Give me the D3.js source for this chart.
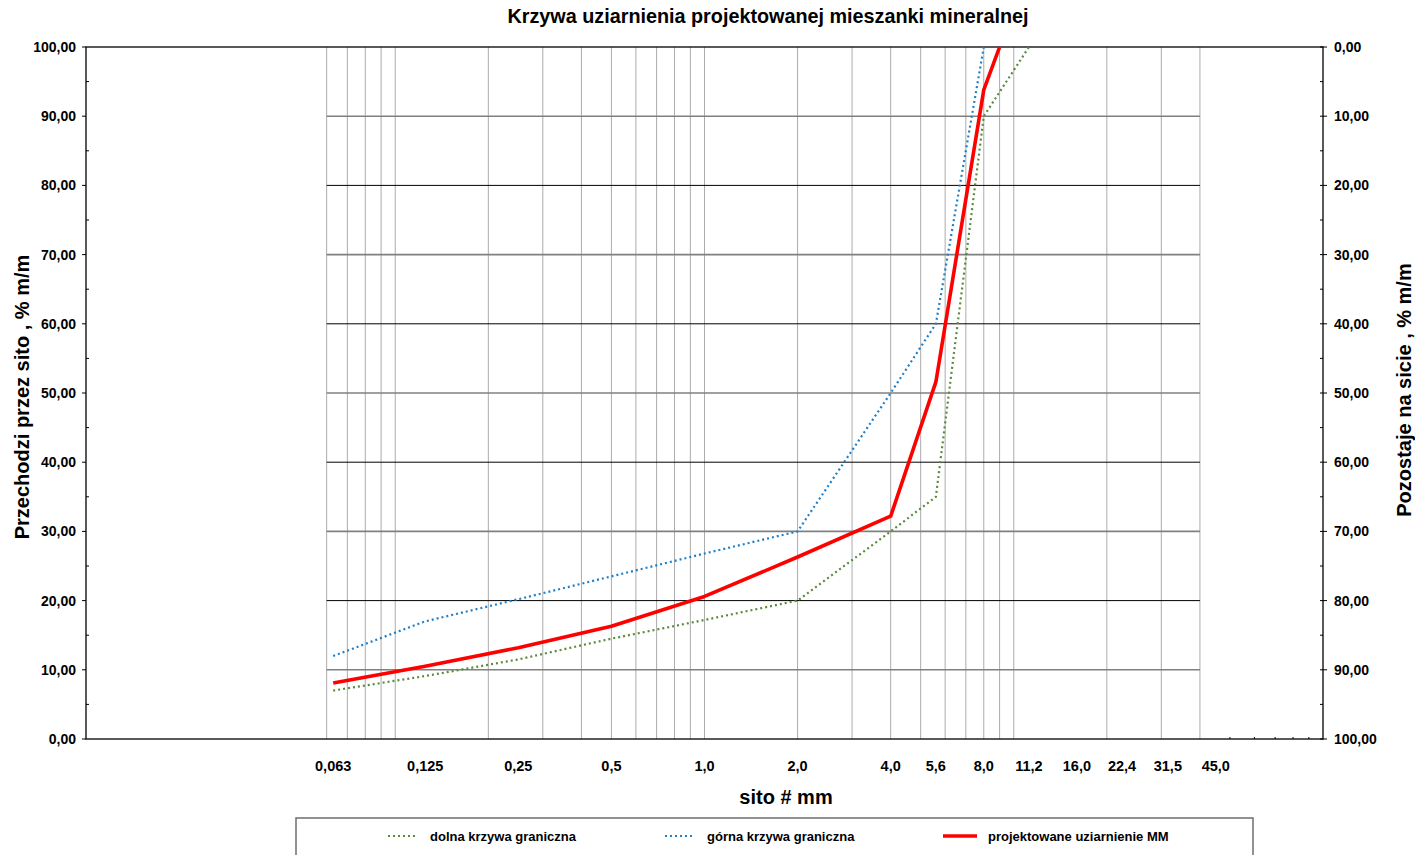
<!doctype html>
<html>
  <head>
    <meta charset="utf-8">
    <title>Krzywa uziarnienia</title>
    <script type="text/javascript" src="https://d3js.org/d3.v7.min.js"></script>
    <style>
      body { margin: 0; background: #fff; }
      text { font-family: "Liberation Sans", Arial, sans-serif; }
    </style>
  </head>
  <body>
    <script>
      // sita (mm) i opisy na osi x
      const sita = [0.063, 0.125, 0.25, 0.5, 1, 2, 4, 5.6, 8, 11.2, 16, 22.4, 31.5, 45];
      const opisySit = ['0,063', '0,125', '0,25', '0,5', '1,0', '2,0', '4,0', '5,6', '8,0', '11,2', '16,0', '22,4', '31,5', '45,0'];

      // krzywe graniczne i projekt - przechodzi przez sito, %
      const dolnaSita = [0.063, 0.125, 0.25, 0.5, 1, 2, 4, 5.6, 8, 11.2];
      const dolnaKrzywa = [7.0, 9.1, 11.5, 14.5, 17.2, 20.0, 30.0, 35.0, 90.0, 100.0];
      const gornaSita = [0.063, 0.125, 0.25, 0.5, 1, 2, 4, 5.6, 8];
      const gornaKrzywa = [12.0, 17.0, 20.2, 23.5, 26.8, 30.0, 50.0, 60.0, 100.0];
      const projektSita = [0.063, 0.125, 0.25, 0.5, 1, 2, 4, 5.6, 8, 9];
      const projektMM = [8.1, 10.5, 13.2, 16.3, 20.6, 26.3, 32.2, 51.6, 93.8, 100.0];

      const yTicks = [0, 10, 20, 30, 40, 50, 60, 70, 80, 90, 100];

      const W = 1415, H = 855;
      const pLeft = 86, pRight = 1323, pTop = 47, pBottom = 739;

      const svg = d3.select('body').append('svg')
          .attr('width', W)
          .attr('height', H);

      const x = d3.scaleLog().domain([0.01, 100]).range([pLeft, pRight]);
      const y = d3.scaleLinear().domain([0, 100]).range([pBottom, pTop]);
      const yR = d3.scaleLinear().domain([100, 0]).range([pBottom, pTop]);
      const fmt = v => d3.format('.2f')(v).replace('.', ',');

      // siatka pionowa (0,06 ... 40)
      const logTicks = x.ticks();
      const gridX = logTicks.filter(v => v > 0.0599 && v < 40.01);
      svg.append('g').selectAll('line')
        .data(gridX)
        .enter().append('line')
          .attr('x1', d => x(d)).attr('x2', d => x(d))
          .attr('y1', pTop).attr('y2', pBottom)
          .attr('stroke', '#acacac')
          .attr('stroke-width', 1);

      // siatka pozioma
      svg.append('g').selectAll('line')
        .data(yTicks.filter(v => v > 0 && v < 100))
        .enter().append('line')
          .attr('x1', x(0.06)).attr('x2', x(40))
          .attr('y1', d => y(d)).attr('y2', d => y(d))
          .attr('stroke', d => d % 20 === 0 ? '#000' : '#808080')
          .attr('stroke-width', d => d % 20 === 0 ? 1 : 1.6);

      // ramka
      svg.append('rect')
        .attr('x', pLeft).attr('y', pTop)
        .attr('width', pRight - pLeft).attr('height', pBottom - pTop)
        .attr('fill', 'none')
        .attr('stroke', '#000')
        .attr('stroke-width', 1.3);

      // osie y - lewa i prawa
      const minorY = d3.range(5, 100, 10);
      const axes = svg.append('g').attr('stroke', '#000').attr('stroke-width', 1);
      axes.selectAll('.tl').data(yTicks).enter().append('line')
        .attr('x1', pLeft - 4).attr('x2', pLeft)
        .attr('y1', d => y(d)).attr('y2', d => y(d));
      axes.selectAll('.tlm').data(minorY).enter().append('line')
        .attr('x1', pLeft).attr('x2', pLeft + 3)
        .attr('y1', d => y(d)).attr('y2', d => y(d));
      axes.selectAll('.tr').data(yTicks).enter().append('line')
        .attr('x1', pRight - 3).attr('x2', pRight + 4)
        .attr('y1', d => yR(d)).attr('y2', d => yR(d));
      axes.selectAll('.trm').data(minorY).enter().append('line')
        .attr('x1', pRight - 3).attr('x2', pRight)
        .attr('y1', d => yR(d)).attr('y2', d => yR(d));
      // drobne znaczniki na osi x powyzej 40 mm
      axes.selectAll('.tx').data(logTicks.filter(v => v > 40.01 && v < 99)).enter().append('line')
        .attr('x1', d => x(d)).attr('x2', d => x(d))
        .attr('y1', pBottom - 2).attr('y2', pBottom);

      svg.append('g').selectAll('text')
        .data(yTicks)
        .enter().append('text')
          .attr('x', pLeft - 10)
          .attr('y', d => y(d) + 5)
          .attr('text-anchor', 'end')
          .attr('font-size', 14)
          .attr('font-weight', 'bold')
          .text(fmt);

      svg.append('g').selectAll('text')
        .data(yTicks)
        .enter().append('text')
          .attr('x', pRight + 11)
          .attr('y', d => yR(d) + 5)
          .attr('font-size', 14)
          .attr('font-weight', 'bold')
          .text(fmt);

      // opisy sit
      svg.append('g').selectAll('text')
        .data(sita)
        .enter().append('text')
          .attr('x', d => x(d))
          .attr('y', 771)
          .attr('text-anchor', 'middle')
          .attr('font-size', 14.5)
          .attr('font-weight', 'bold')
          .text((d, i) => opisySit[i]);

      // tytuly
      svg.append('text')
        .attr('x', 768).attr('y', 23)
        .attr('text-anchor', 'middle')
        .attr('font-size', 19.8)
        .attr('font-weight', 'bold')
        .text('Krzywa uziarnienia projektowanej mieszanki mineralnej');

      svg.append('text')
        .attr('x', 786).attr('y', 804)
        .attr('text-anchor', 'middle')
        .attr('font-size', 20)
        .attr('font-weight', 'bold')
        .text('sito # mm');

      svg.append('text')
        .attr('transform', 'translate(29,397) rotate(-90)')
        .attr('text-anchor', 'middle')
        .attr('font-size', 20)
        .attr('font-weight', 'bold')
        .text('Przechodzi przez sito , % m/m');

      svg.append('text')
        .attr('transform', 'translate(1411,390) rotate(-90)')
        .attr('text-anchor', 'middle')
        .attr('font-size', 20)
        .attr('font-weight', 'bold')
        .text('Pozostaje na sicie , % m/m');

      // serie
      const series = [
        { name: 'dolna krzywa graniczna', xs: dolnaSita, ys: dolnaKrzywa, color: '#5b8a3a', width: 2.2, dash: '2,3' },
        { name: 'górna krzywa graniczna', xs: gornaSita, ys: gornaKrzywa, color: '#1f7fc8', width: 2.2, dash: '2,3' },
        { name: 'projektowane uziarnienie MM', xs: projektSita, ys: projektMM, color: '#ff0000', width: 3.6, dash: null }
      ];

      const line = d3.line()
          .x(d => x(d[0]))
          .y(d => y(d[1]));

      svg.append('g').selectAll('path')
        .data(series)
        .enter().append('path')
          .attr('d', s => line(s.xs.map((v, i) => [v, s.ys[i]])))
          .attr('fill', 'none')
          .attr('stroke', s => s.color)
          .attr('stroke-width', s => s.width)
          .attr('stroke-dasharray', s => s.dash)
          .attr('stroke-linejoin', 'round');

      // legenda
      const legend = svg.append('g');
      legend.append('rect')
        .attr('x', 296).attr('y', 818)
        .attr('width', 957).attr('height', 50)
        .attr('fill', '#fff')
        .attr('stroke', '#6e6e6e')
        .attr('stroke-width', 1.5);

      const legendX = [388, 665, 943];
      const items = legend.selectAll('g')
        .data(series)
        .enter().append('g')
          .attr('transform', (d, i) => `translate(${legendX[i]},836)`);
      items.append('line')
        .attr('x1', 0).attr('x2', (d, i) => i === 2 ? 34 : 29)
        .attr('stroke', d => d.color)
        .attr('stroke-width', d => d.width)
        .attr('stroke-dasharray', d => d.dash);
      items.append('text')
        .attr('x', (d, i) => i === 2 ? 45 : 42)
        .attr('y', 4.5)
        .attr('font-size', 13)
        .attr('font-weight', 'bold')
        .text(d => d.name);
    </script>
  </body>
</html>
